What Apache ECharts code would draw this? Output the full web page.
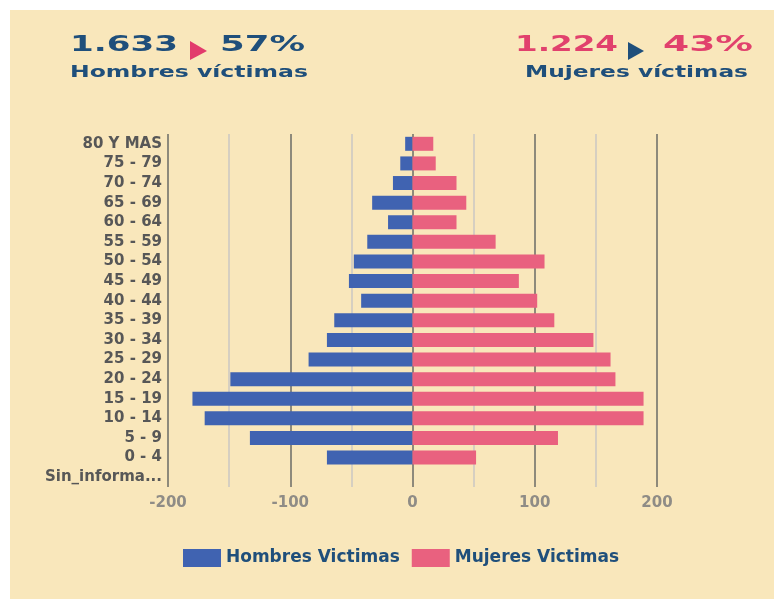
<!DOCTYPE html>
<html>
<head>
<meta charset="utf-8">
<script src="https://cdn.jsdelivr.net/npm/echarts@6/dist/echarts.min.js"></script>
<style>
html,body{margin:0;padding:0;background:#ffffff;}
#bg{position:absolute;left:10px;top:10px;width:764px;height:589px;background:#f9e7bb;}
#chart{position:absolute;left:0;top:0;width:774px;height:599px;}
</style>
</head>
<body>
<div id="bg"></div>
<div id="chart"></div>
<script>
// ---- data ----
var categories = ['80 Y MAS','75 - 79','70 - 74','65 - 69','60 - 64','55 - 59','50 - 54','45 - 49','40 - 44','35 - 39','30 - 34','25 - 29','20 - 24','15 - 19','10 - 14','5 - 9','0 - 4','Sin_información'];
var hombres = [-6,-10,-16,-33,-20,-37,-48,-52,-42,-64,-70,-85,-149,-180,-170,-133,-70,0];
var mujeres = [17,19,36,44,36,68,108,87,102,116,148,162,166,189,189,119,52,0];
var seriesNames = ['Hombres Victimas','Mujeres Victimas'];
var xTicks = [-200,-100,0,100,200];
var totHombres = '1.633', pctHombres = '57%', labHombres = 'Hombres víctimas';
var totMujeres = '1.224', pctMujeres = '43%', labMujeres = 'Mujeres víctimas';

var BLUE = '#4063b1', PINK = '#e9617f', TXTBLUE = '#1f4f7b', TXTPINK = '#e1416d';

var ctx = document.createElement('canvas').getContext('2d');
function fitText(text, font, x, yMid, w, color) {
  ctx.font = font;
  var m = ctx.measureText(text).width;
  return {
    type: 'text', x: x, y: yMid, scaleX: w / m, z: 10,
    style: { text: text, font: font, fill: color, textAlign: 'left', textVerticalAlign: 'middle' }
  };
}

var chart = echarts.init(document.getElementById('chart'), null, {renderer: 'canvas'});
var option = {
  backgroundColor: 'transparent',
  animation: false,
  grid: { left: 168, right: 117, top: 134, bottom: 112, containLabel: false },
  xAxis: {
    type: 'value', min: -200, max: 200, interval: 50,
    axisLine: { show: false }, axisTick: { show: false },
    axisLabel: {
      margin: 9, color: '#8f8c86', fontFamily: 'DejaVu Sans', fontWeight: 'bold', fontSize: 15,
      formatter: function (v) { return xTicks.indexOf(v) >= 0 ? String(v) : ''; }
    },
    splitLine: { show: true, lineStyle: { color: ['#8e8a7b', '#d6cfc1'], width: 2 } }
  },
  yAxis: {
    type: 'category', data: categories, inverse: true,
    axisLine: { show: false }, axisTick: { show: false },
    axisLabel: {
      margin: 6, color: '#575757', fontFamily: 'DejaVu Sans', fontWeight: 'bold', fontSize: 15,
      formatter: function (v) { return v.length > 12 ? v.slice(0, 11) + '...' : v; }
    }
  },
  legend: {
    bottom: 32, left: 183, padding: 0, itemWidth: 38, itemHeight: 18, itemGap: 12,
    icon: 'rect',
    textStyle: { color: TXTBLUE, fontFamily: 'DejaVu Sans', fontWeight: 'bold', fontSize: 17 },
    data: seriesNames
  },
  series: [
    { name: seriesNames[0], type: 'bar', data: hombres, barWidth: 14, barGap: '-100%', itemStyle: { color: BLUE } },
    { name: seriesNames[1], type: 'bar', data: mujeres, barWidth: 14, barGap: '-100%', itemStyle: { color: PINK } }
  ],
  graphic: [
    fitText(totHombres, 'bold 22px "DejaVu Sans"', 70, 45, 108, TXTBLUE),
    { type: 'polygon', z: 10, shape: { points: [[190, 41], [190, 60], [207, 51]] }, style: { fill: '#e23b6c' } },
    fitText(pctHombres, 'bold 22px "DejaVu Sans"', 220, 45, 85, TXTBLUE),
    fitText(labHombres, 'bold 16px "DejaVu Sans"', 70, 73, 238, TXTBLUE),
    fitText(totMujeres, 'bold 22px "DejaVu Sans"', 515, 45, 103, TXTPINK),
    { type: 'polygon', z: 10, shape: { points: [[628, 42], [628, 60], [644, 51]] }, style: { fill: '#1f4f7b' } },
    fitText(pctMujeres, 'bold 22px "DejaVu Sans"', 663, 45, 90, TXTPINK),
    fitText(labMujeres, 'bold 16px "DejaVu Sans"', 525, 73, 223, TXTBLUE)
  ]
};
chart.setOption(option);
</script>
</body>
</html>
